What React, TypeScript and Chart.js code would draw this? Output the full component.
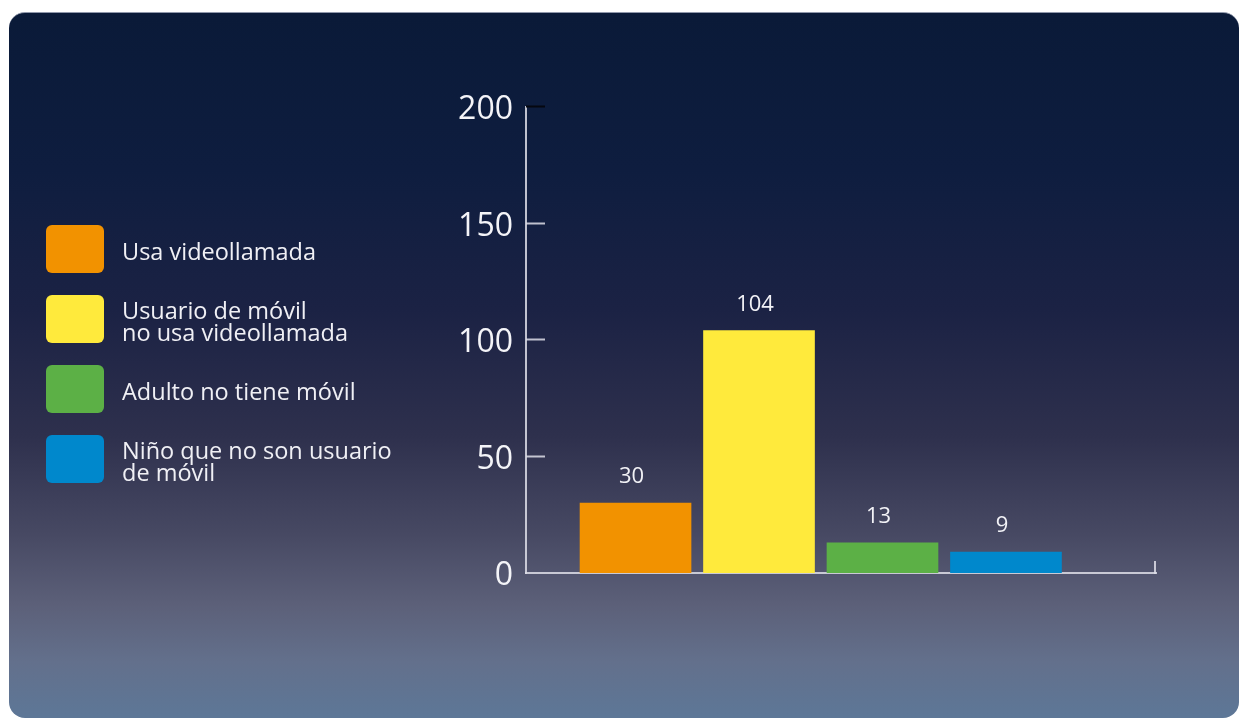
import React, { useEffect, useRef } from "react";
import { Chart, registerables } from "chart.js";

Chart.register(...registerables);

const FONT = "'Open Sans', 'Noto Sans', sans-serif";

const categories = [
  "Usa videollamada",
  "Usuario de móvil\nno usa videollamada",
  "Adulto no tiene móvil",
  "Niño que no son usuario\nde móvil",
];
const values = [30, 104, 13, 9];
const barColors = ["#f29200", "#ffea3c", "#5cb046", "#0088cc"];
const yTickValues = [0, 50, 100, 150, 200];

const AXIS_COLOR = "rgba(222,222,232,0.85)";

const decorPlugin = {
  id: "decor",
  afterDraw(chart: any) {
    const { ctx } = chart;
    const ys = chart.scales.y;
    const xs = chart.scales.x;
    ctx.save();
    ctx.lineWidth = 2;
    // inward tick marks on the y axis
    ys.ticks.forEach((t: any) => {
      if (t.value === 0) return;
      const py = Math.round(ys.getPixelForValue(t.value)) - 0.5;
      ctx.strokeStyle = t.value === yTickValues[yTickValues.length - 1] ? "#05070f" : AXIS_COLOR;
      ctx.beginPath();
      ctx.moveTo(ys.right, py);
      ctx.lineTo(ys.right + 19, py);
      ctx.stroke();
    });
    // end tick on the x axis
    ctx.strokeStyle = AXIS_COLOR;
    ctx.beginPath();
    const ex = Math.round(xs.right) - 1;
    ctx.moveTo(ex, xs.top + 1);
    ctx.lineTo(ex, xs.top - 12);
    ctx.stroke();
    // value labels
    const meta = chart.getDatasetMeta(0);
    ctx.fillStyle = "#f2f2f6";
    ctx.font = `22px ${FONT}`;
    ctx.textAlign = "center";
    ctx.textBaseline = "middle";
    meta.data.forEach((el: any, i: number) => {
      ctx.fillText(String(values[i]), el.x - 4, el.y - 26);
    });
    ctx.restore();
  },
};

function ChartCanvas() {
  const ref = useRef<HTMLCanvasElement | null>(null);
  useEffect(() => {
    if (!ref.current) return;
    const chart = new Chart(ref.current, {
      type: "bar",
      data: {
        datasets: [
          {
            label: "Personas",
            data: values.map((v, i) => ({ x: i + 1, y: v })) as any,
            backgroundColor: barColors,
            borderWidth: 0,
            barThickness: 111,
          },
        ],
      },
      options: {
        animation: false,
        responsive: false,
        maintainAspectRatio: false,
        devicePixelRatio: 1,
        layout: { padding: { top: 94, right: 83, bottom: 145, left: 0 } },
        plugins: {
          legend: { display: false },
          tooltip: { enabled: false },
        },
        scales: {
          x: {
            type: "linear",
            offset: false,
            min: 0.113,
            max: 5.215,
            grid: { display: false, drawTicks: false },
            ticks: { display: false },
            border: { display: true, color: AXIS_COLOR, width: 2 },
            afterFit: (s: any) => {
              s.height = 0;
            },
          },
          y: {
            min: 0,
            max: 200,
            afterBuildTicks: (s: any) => {
              s.ticks = yTickValues.map((v) => ({ value: v }));
            },
            grid: { display: false, drawTicks: false },
            border: { display: true, color: AXIS_COLOR, width: 2 },
            ticks: {
              color: "#f4f4f8",
              font: { family: FONT, size: 32 },
              padding: 13,
              labelOffset: 3,
            },
            afterFit: (s: any) => {
              s.width = 517;
            },
          },
        },
      } as any,
      plugins: [decorPlugin],
    });
    return () => chart.destroy();
  }, []);
  return (
    <canvas
      ref={ref}
      width={1230}
      height={705}
      style={{ position: "absolute", left: 0, top: 0, width: 1230, height: 705 }}
    />
  );
}

export default function App() {
  return (
    <div
      style={{
        position: "fixed",
        left: 9,
        top: 12,
        width: 1230,
        height: 706,
        borderRadius: 16,
        overflow: "hidden",
        borderTop: "1px solid #9098ab",
        boxSizing: "border-box",
        background:
          "linear-gradient(to bottom, #0a1a38 0%, #0e1d3f 22%, #1b2244 42%, #2e304d 60%, #474963 74%, #5c6079 84%, #63708c 92%, #5d7797 100%)",
        fontFamily: FONT,
      }}
    >
      <ChartCanvas />
      <div
        style={{
          position: "absolute",
          left: 37,
          top: 212,
          display: "flex",
          flexDirection: "column",
          gap: 22,
        }}
      >
        {categories.map((c, i) => (
          <div key={c} style={{ display: "flex", alignItems: "center", height: 48 }}>
            <div
              style={{
                width: 58,
                height: 48,
                borderRadius: 6,
                background: barColors[i],
                flex: "0 0 auto",
              }}
            />
            <div
              style={{
                marginLeft: 18,
                color: "#f0f0f5",
                fontSize: 23.5,
                lineHeight: "22px",
                whiteSpace: "pre",
                position: "relative",
                top: 2,
              }}
            >
              {c}
            </div>
          </div>
        ))}
      </div>
    </div>
  );
}
